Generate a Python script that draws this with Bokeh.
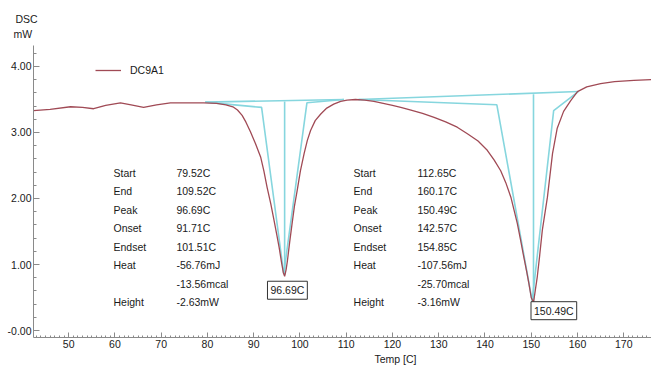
from bokeh.plotting import figure
from bokeh.models import FixedTicker, Label, Legend, LegendItem, ColumnDataSource, Title
from bokeh.core.properties import value
from bokeh.embed import file_html
from bokeh.resources import INLINE

# ---- DSC curve (Temp [C], mW) ----
temp = [42.4, 46.0, 50.4, 53.0, 55.4, 58.0, 61.2, 63.5, 66.2, 69.0, 72.0, 75.0,
        79.2, 82.0, 84.0, 85.5, 86.5, 87.5, 88.3, 89.3, 90.4, 91.5, 92.2, 92.9, 93.7,
        94.4, 95.0, 95.5, 96.0, 96.4, 96.69, 97.0, 97.3, 97.8, 98.3, 98.8, 99.4,
        100.1, 100.9, 101.6, 102.3, 103.3, 104.5, 105.8, 107.3, 108.8, 110.2,
        112.0, 114.0, 116.0, 118.0, 120.0, 121.8, 124.0, 126.5, 129.0, 131.5,
        134.0, 136.2, 138.5, 140.5, 142.0, 143.4, 144.5, 145.6, 146.3, 147.0,
        147.7, 148.4, 149.0, 149.5, 150.0, 150.49, 150.9, 151.3, 151.8, 152.4,
        153.5, 154.6, 155.6, 157.0, 158.5, 160.0, 162.0, 165.0, 168.0, 172.2, 176.0]
dsc = [3.33, 3.35, 3.39, 3.38, 3.36, 3.41, 3.45, 3.42, 3.38, 3.42, 3.45, 3.45,
       3.45, 3.44, 3.42, 3.39, 3.34, 3.26, 3.16, 3.01, 2.83, 2.63, 2.42, 2.17, 1.92,
       1.67, 1.45, 1.26, 1.04, 0.88, 0.82, 0.92, 1.06, 1.35, 1.62, 1.88, 2.12,
       2.42, 2.68, 2.88, 3.03, 3.18, 3.28, 3.37, 3.43, 3.47, 3.49,
       3.50, 3.49, 3.47, 3.44, 3.41, 3.38, 3.34, 3.29, 3.23, 3.16,
       3.08, 2.98, 2.87, 2.73, 2.58, 2.42, 2.24, 2.02, 1.82, 1.62,
       1.37, 1.11, 0.90, 0.71, 0.50, 0.42, 0.62, 0.81, 1.12, 1.52,
       2.02, 2.68, 3.06, 3.32, 3.48, 3.62, 3.69, 3.74, 3.77, 3.79, 3.80]

# ---- peak analysis construction lines ----
p1_base_t = [79.52, 109.52]
p1_base_v = [3.46, 3.50]
p1_tan_t = [79.52, 91.71, 96.50, 101.51, 109.52]
p1_tan_v = [3.46, 3.38, 0.86, 3.45, 3.50]
p1_peak_t = [96.69, 96.69]
p1_peak_v = [0.84, 3.47]

p2_base_t = [112.65, 160.17]
p2_base_v = [3.50, 3.62]
p2_tan_t = [112.65, 142.57, 150.20, 154.85, 160.17]
p2_tan_v = [3.50, 3.42, 0.45, 3.33, 3.62]
p2_peak_t = [150.49, 150.49]
p2_peak_v = [0.45, 3.58]

# ---- result tables ----
row_names = ["Start", "End", "Peak", "Onset", "Endset", "Heat", "", "Height"]
vals1 = ["79.52C", "109.52C", "96.69C", "91.71C", "101.51C", "-56.76mJ", "-13.56mcal", "-2.63mW"]
vals2 = ["112.65C", "160.17C", "150.49C", "142.57C", "154.85C", "-107.56mJ", "-25.70mcal", "-3.16mW"]
peak_labels = ["96.69C", "150.49C"]

x_ticks = list(range(50, 171, 10))
y_ticks = [0, 1, 2, 3, 4]

RED = "#a04a55"
CYAN = "#86d6de"
FONT = "Liberation Sans"
FS = "10.5px"
TXT = "#1a1a1a"

p = figure(width=651, height=366, x_range=(42.4, 176.0), y_range=(-0.106, 4.318),
           output_backend="svg", toolbar_location=None,
           min_border_left=33, min_border_right=0, min_border_top=45, min_border_bottom=29)
p.outline_line_color = None
p.grid.visible = False
p.background_fill_color = "white"

for ax in (p.xaxis, p.yaxis):
    ax.axis_line_color = "#8a8a8a"
    ax.major_tick_line_color = "#8a8a8a"
    ax.minor_tick_line_color = "#8a8a8a"
    ax.major_tick_out = 0
    ax.minor_tick_out = 0
    ax.major_label_text_font = FONT
    ax.major_label_text_font_size = FS
    ax.major_label_text_color = TXT

p.xaxis.ticker = FixedTicker(ticks=x_ticks, minor_ticks=list(range(43, 177)))
p.xaxis.major_tick_in = 5
p.xaxis.minor_tick_in = 2
p.xaxis.major_label_standoff = 2

p.yaxis.ticker = FixedTicker(ticks=y_ticks, minor_ticks=[round(i * 0.2, 1) for i in range(0, 22)])
p.yaxis.major_tick_in = 6
p.yaxis.minor_tick_in = 3
p.yaxis.major_label_standoff = 2
p.yaxis.major_label_overrides = {t: ("-0.00" if t == 0 else f"{t:.2f}") for t in y_ticks}

# construction lines
for tt, vv in [(p1_base_t, p1_base_v), (p1_tan_t, p1_tan_v), (p1_peak_t, p1_peak_v),
               (p2_base_t, p2_base_v), (p2_tan_t, p2_tan_v), (p2_peak_t, p2_peak_v)]:
    p.line(tt, vv, line_color=CYAN, line_width=1.6)

curve = p.line(temp, dsc, line_color=RED, line_width=1.3)

legend = Legend(items=[LegendItem(label="DC9A1", renderers=[curve])],
                location=(62, 261), orientation="vertical")
legend.background_fill_alpha = 0
legend.border_line_color = None
legend.padding = 0
legend.margin = 0
legend.spacing = 0
legend.glyph_width = 26
legend.glyph_height = 12
legend.label_height = 12
legend.label_standoff = 9
legend.label_text_font = FONT
legend.label_text_font_size = FS
legend.label_text_color = TXT
p.add_layout(legend)

# tables
row_y = [2.39 - 0.28 * i for i in range(len(row_names))]
tab = ColumnDataSource(dict(
    x=[59.7] * 8 + [73.3] * 8 + [111.6] * 8 + [125.4] * 8,
    y=row_y * 4,
    t=row_names + vals1 + row_names + vals2))
p.text(x="x", y="y", text="t", source=tab, text_font=value(FONT), text_font_size=FS,
       text_color=TXT, text_align="left", text_baseline="middle")

# peak boxes
p.add_layout(Label(x=p1_peak_t[0] + 0.6, y=p1_peak_v[0] - 0.23, text=peak_labels[0],
                   text_align="center", text_baseline="middle", text_font=FONT,
                   text_font_size=FS, text_color=TXT, border_line_color="#333333",
                   background_fill_color="white", padding=3))
p.add_layout(Label(x=p2_peak_t[0] + 4.4, y=p2_peak_v[0] - 0.15, text=peak_labels[1],
                   text_align="center", text_baseline="middle", text_font=FONT,
                   text_font_size=FS, text_color=TXT, border_line_color="#333333",
                   background_fill_color="white", padding=3))

# axis titles (first "above" title is the outer one)
p.title.text = "DSC"
p.title.align = "left"
p.title.offset = -18
p.title.standoff = 0
p.title.vertical_align = "bottom"
p.title.text_font = FONT
p.title.text_font_size = FS
p.title.text_font_style = "normal"
p.title.text_color = TXT
p.add_layout(Title(text="mW", align="left", offset=-20, standoff=7, vertical_align="top",
                   text_font=FONT, text_font_size=FS, text_font_style="normal",
                   text_color=TXT), "above")
p.add_layout(Title(text="Temp [C]", align="left", offset=341, standoff=0, vertical_align="bottom",
                   text_font=FONT, text_font_size=FS, text_font_style="normal",
                   text_color=TXT), "below")

open("out.html", "w").write(file_html(p, INLINE))
